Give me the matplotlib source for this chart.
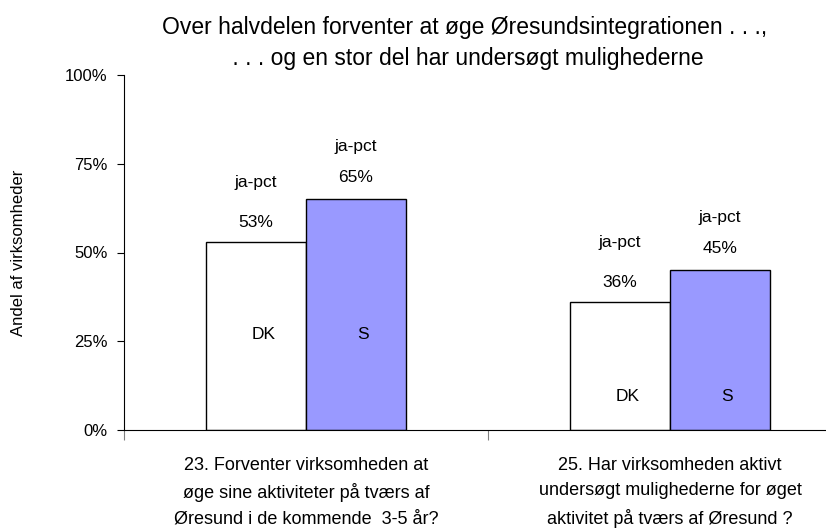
import numpy as np
import matplotlib.pyplot as plt

plt.rcParams['font.family'] = ['Liberation Sans', 'DejaVu Sans']

# Data
categories = ["23. Forventer virksomheden at\nøge sine aktiviteter på tværs af\nØresund i de kommende  3-5 år?",
              "25. Har virksomheden aktivt\nundersøgt mulighederne for øget\naktivitet på tværs af Øresund ?"]
dk_values = [53, 36]
s_values = [65, 45]
inside_label_y = [27, 9.5]
yticks = [0, 25, 50, 75, 100]

fig = plt.figure(figsize=(8.26, 5.31), dpi=100)
ax = fig.add_axes([124 / 826, 1 - 430 / 531, (852 - 124) / 826, 355 / 531])

x = np.arange(len(categories)) + 0.5
w = 0.275
ax.bar(x - w / 2, dk_values, w, color='white', edgecolor='black', linewidth=1)
ax.bar(x + w / 2, s_values, w, color='#9999FF', edgecolor='black', linewidth=1)

# value labels
fs = 12.5
for i in range(len(categories)):
    ax.annotate(f"{dk_values[i]}%", (x[i] - w / 2, dk_values[i]), xytext=(0, 14),
                textcoords='offset points', ha='center', va='center', fontsize=fs)
    ax.annotate("ja-pct", (x[i] - w / 2, dk_values[i]), xytext=(0, 43),
                textcoords='offset points', ha='center', va='center', fontsize=fs)
    ax.annotate(f"{s_values[i]}%", (x[i] + w / 2, s_values[i]), xytext=(0, 16),
                textcoords='offset points', ha='center', va='center', fontsize=fs)
    ax.annotate("ja-pct", (x[i] + w / 2, s_values[i]), xytext=(0, 38),
                textcoords='offset points', ha='center', va='center', fontsize=fs)
    ax.text(x[i] - w / 2 + 0.02, inside_label_y[i], "DK", ha='center', va='center', fontsize=fs)
    ax.text(x[i] + w / 2 + 0.02, inside_label_y[i], "S", ha='center', va='center', fontsize=fs)

ax.set_xlim(0, 2)
ax.set_ylim(0, 100)
ax.set_yticks(yticks)
ax.set_yticklabels([f"{v}%" for v in yticks], fontsize=12)
ax.set_xticks([0, 1, 2])
ax.set_xticklabels([])
ax.tick_params(axis='x', length=7, color='#808080')
ax.tick_params(axis='y', length=5, direction='out', pad=7)
for i, c in enumerate(categories):
    ax.text(x[i], -7.5, c, ha='center', va='top', fontsize=13, linespacing=1.65)

ax.spines['top'].set_visible(False)
ax.spines['right'].set_visible(False)
ax.spines['left'].set_color('black')
ax.spines['bottom'].set_color('black')

ax.set_ylabel("Andel af virksomheder", fontsize=12, labelpad=28)

fig.text(465 / 826, 1 - 43 / 531,
         "Over halvdelen forventer at øge Øresundsintegrationen . . .,\n . . . og en stor del har undersøgt mulighederne",
         ha='center', va='center', fontsize=16.5, linespacing=1.45)

fig.savefig("out.png", dpi=100)
